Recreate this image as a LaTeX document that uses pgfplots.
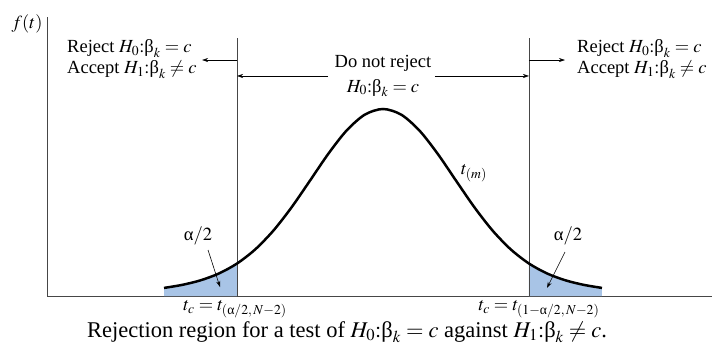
\documentclass[border=0pt]{standalone}
\usepackage{amsmath}
\usepackage{mathptmx}
\usepackage[no-math]{fontspec}
\setmainfont{Liberation Serif}
\usepackage{pgfplots}
\usepackage{pgfplotstable}
\pgfplotsset{compat=1.18}
\usetikzlibrary{arrows.meta}

\definecolor{tailblue}{RGB}{168,196,230}
\definecolor{axisgray}{RGB}{70,70,70}
\newcommand{\gb}{\text{β}}
\newcommand{\ga}{\text{α}}
\newcommand{\labfont}{\fontsize{18.5bp}{22bp}\selectfont}
\tikzset{lab/.style={font=\labfont, inner sep=0pt}}

% density of t_(m), scaled so that the mode is 1
\pgfplotstableread{
t      f
-3.00  0.0432
-2.75  0.0596
-2.50  0.0838
-2.25  0.1201
-2.00  0.1736
-1.75  0.2493
-1.50  0.3504
-1.25  0.4756
-1.00  0.6171
-0.75  0.7600
-0.50  0.8844
-0.25  0.9697
 0.00  1.0000
 0.25  0.9697
 0.50  0.8844
 0.75  0.7600
 1.00  0.6171
 1.25  0.4756
 1.50  0.3504
 1.75  0.2493
 2.00  0.1736
 2.25  0.1201
 2.50  0.0838
 2.75  0.0596
 3.00  0.0432
}\tdens

% the two rejection tails
\pgfplotstableread{
t      f
-3.00  0.0432
-2.75  0.0596
-2.50  0.0838
-2.25  0.1201
-2.00  0.1736
}\lefttail
\pgfplotstableread{
t      f
 2.00  0.1736
 2.25  0.1201
 2.50  0.0838
 2.75  0.0596
 3.00  0.0432
}\righttail

\begin{document}
\begin{tikzpicture}
\begin{axis}[
  at={(47bp,55bp)}, anchor=south west,
  scale only axis, width=665bp, height=279bp,
  xmin=-4.603, xmax=4.507, ymin=0, ymax=1.492,
  axis lines=left,
  axis line style={-, line width=0.8pt, axisgray},
  xtick=\empty, ytick=\empty,
  clip=false,
]
  \addplot[fill=tailblue, draw=none, smooth] table[x=t, y=f] {\lefttail} \closedcycle;
  \addplot[fill=tailblue, draw=none, smooth] table[x=t, y=f] {\righttail} \closedcycle;

  % critical values
  \draw[line width=0.7pt, axisgray] (axis cs:-2,0) -- (axis cs:-2,1.380);
  \draw[line width=0.7pt, axisgray] (axis cs:2,0) -- (axis cs:2,1.380);

  \addplot[black, line width=2.5pt, smooth] table[x=t, y=f] {\tdens};

  % region arrows
  \draw[line width=0.6pt, -{Stealth[length=6bp, width=4bp]}] (axis cs:-2,1.262) -- (axis cs:-2.479,1.262);
  \draw[line width=0.6pt, -{Stealth[length=6bp, width=4bp]}] (axis cs:2,1.262) -- (axis cs:2.493,1.262);
  \draw[line width=0.6pt, -{Stealth[length=6bp, width=4bp]}] (axis cs:-0.753,1.1765) -- (axis cs:-2,1.1765);
  \draw[line width=0.6pt, -{Stealth[length=6bp, width=4bp]}] (axis cs:0.712,1.1765) -- (axis cs:2,1.1765);

  % labels
  \node[lab, anchor=center] at (axis cs:-4.877,1.4545) {$f(t)$};
  \node[lab, anchor=base west] at (axis cs:-4.329,1.2995) {Reject $H_0{:}\gb_k = c$};
  \node[lab, anchor=base west] at (axis cs:-4.329,1.1872) {Accept $H_1{:}\gb_k \neq c$};
  \node[lab, anchor=base west] at (axis cs:2.658,1.2995) {Reject $H_0{:}\gb_k = c$};
  \node[lab, anchor=base west] at (axis cs:2.658,1.1872) {Accept $H_1{:}\gb_k \neq c$};
  \node[lab, anchor=base] at (axis cs:0,1.2193) {Do not reject};
  \node[lab, anchor=base] at (axis cs:0,1.0909) {$H_0{:}\gb_k = c$};
  \node[lab, anchor=center] at (axis cs:1.247,0.658) {$t_{(m)}$};

  \node[lab, anchor=center] at (axis cs:-2.534,0.321) {$\ga/2$};
  \node[lab, anchor=center] at (axis cs:2.534,0.321) {$\ga/2$};
  \draw[line width=0.6pt, -{Stealth[length=6bp, width=4bp]}] (axis cs:-2.397,0.246) -- (axis cs:-2.233,0.048);
  \draw[line width=0.6pt, -{Stealth[length=6bp, width=4bp]}] (axis cs:2.493,0.235) -- (axis cs:2.247,0.043);

  \node[lab, anchor=base] at (axis cs:-2.027,-0.080) {$t_c = t_{(\ga/2,\,N-2)}$};
  \node[lab, anchor=base] at (axis cs:2.137,-0.080) {$t_c = t_{(1-\ga/2,\,N-2)}$};
  \node[lab, anchor=base, font=\fontsize{22.5bp}{26bp}\selectfont] at (axis cs:-0.493,-0.2193)
    {Rejection region for a test of $H_0{:}\gb_k = c$ against $H_1{:}\gb_k \neq c$.};
\end{axis}
\pgfresetboundingbox
\path (0,0) rectangle (712bp,351bp);
\end{tikzpicture}
\end{document}
